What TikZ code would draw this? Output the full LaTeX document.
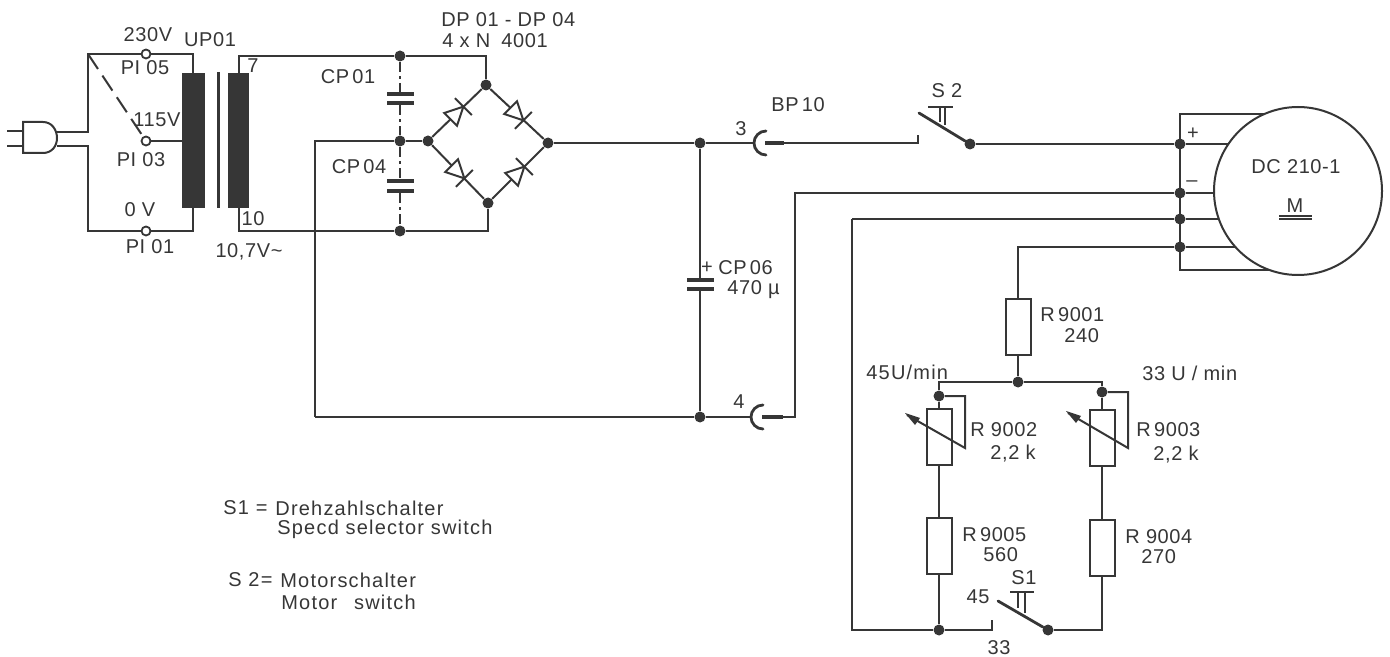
\documentclass[tikz,border=0pt]{standalone}
\usepackage{fontspec}
\setmainfont{Liberation Sans}[LetterSpace=3]
\newfontfamily\widefont{Liberation Sans}[LetterSpace=6]
\usepackage{xcolor}
\definecolor{ink}{HTML}{363636}
\newcommand{\tightfont}{\fontsize{10}{12}\selectfont\spaceskip 1.6pt\relax}
\tikzset{
  wire/.style={line width=1pt, ink},
  blade/.style={line width=1.4pt, ink, line cap=round},
  pin/.style={line width=1.9pt, ink},
  dot/.style={circle, fill=ink, inner sep=0pt, minimum size=5.5pt},
  post/.style={circle, draw=ink, line width=0.9pt, fill=white, inner sep=0pt, minimum size=4.5pt},
  res/.style={rectangle, draw=ink, line width=1pt, fill=white, inner sep=0pt, minimum width=12.5pt, minimum height=28pt},
  coil/.style={rectangle, fill=ink, inner sep=0pt, minimum width=11.5pt, minimum height=67.5pt},
  plate/.style={rectangle, fill=ink, inner sep=0pt, minimum width=13.5pt, minimum height=1.9pt},
  lab/.style={font=\fontsize{10}{12}\selectfont, text=ink, inner sep=0pt},
  tight/.style={font=\tightfont, text=ink, inner sep=0pt},
  leg/.style={font=\fontsize{10}{12}\selectfont, text=ink, inner sep=0pt, anchor=west},
  note/.style={font=\fontsize{10}{12}\selectfont\widefont, text=ink, inner sep=0pt, anchor=west}
}
\begin{document}
\begin{tikzpicture}[x=0.5pt,y=-0.5pt]
\useasboundingbox (0,0) rectangle (1390,657);

% Mains plug
\draw[wire] (7,131) -- (23,131);
\draw[wire] (7,146) -- (23,146);
\draw[wire] (23,122) -- (43,122) .. controls (52,122) and (57,130) .. (57,138) .. controls (57,146) and (52,153) .. (43,153) -- (23,153) -- cycle;

% Input posts and corners
\coordinate (pa) at (57,132);
\coordinate (pb) at (57,146);
\coordinate (fa) at (88,132);
\coordinate (fb) at (88,146);
\coordinate (ftop) at (88,54);
\coordinate (fbot) at (88,231);
\coordinate (prit) at (193,54);
\coordinate (prib) at (193,231);
\node[coil] (coilone) at (193.5,140.5) {};
\node[coil, minimum width=10.5pt] (coiltwo) at (238.5,140.5) {};
\draw[line width=1.5pt, ink] (218,72) -- (218,208);
\draw[wire] (pa) -- (fa) -- (ftop) -- (prit) -- (prit |- coilone.north);
\draw[wire] (pb) -- (fb) -- (fbot) -- (prib) -- (prib |- coilone.south);
\node[post] (pifive) at (146,54) {};
\node[post] (pithree) at (146,141) {};
\node[post] (pione) at (146,231) {};
\draw[wire, dash pattern=on 9pt off 4pt] (ftop) -- (pithree);
\draw[wire] (pithree) -- (pithree -| coilone.west);

% Secondary side
\coordinate (seca) at (238.5,56);
\coordinate (secb) at (238.5,231);
\node[dot] (captop) at (400,56) {};
\node[dot] (capmid) at (400,141) {};
\node[dot] (capbot) at (400,231) {};
\node[dot] (brl) at (428,141) {};
\node[dot] (brt) at (486,85) {};
\node[dot] (brr) at (548,143) {};
\node[dot] (brb) at (488,203) {};
\coordinate (ctop) at (486,56);
\coordinate (cbot) at (488,231);
\coordinate (retl) at (315,141);
\coordinate (retb) at (315,417);
\draw[wire] (coiltwo.north) -- (seca) -- (captop) -- (ctop) -- (brt);
\draw[wire] (coiltwo.south) -- (secb) -- (capbot) -- (cbot) -- (brb);
\draw[wire] (brl) -- (capmid) -- (retl) -- (retb);

% Filter capacitors
\node[plate] (cpa) at (400,94) {};
\node[plate] (cpb) at (400,103) {};
\node[plate] (cpc) at (400,181) {};
\node[plate] (cpd) at (400,191) {};
\foreach \ca/\cb in {captop/cpa, cpb/capmid, capmid/cpc, cpd/capbot}
  \draw[wire, dash pattern=on 5pt off 2pt on 1.5pt off 2pt] (\ca) -- (\cb);

% Bridge
\draw[wire] (brl) -- (brt) -- (brr) -- (brb) -- (brl);
\foreach \dx/\dy/\da in {457/113/45, 517/114/-45, 458/172/-45, 518/173/45}{
  \begin{scope}[shift={(\dx,\dy)}, rotate=\da]
    \draw[wire, fill=white] (-9,-9) -- (-9,9) -- (9,0) -- cycle;
    \draw[wire] (9,-12) -- (9,12);
  \end{scope}
}

% Main rail, sockets and S2
\node[dot] (railp) at (700,143) {};
\node[dot] (railn) at (700,417) {};
\coordinate (sockthree) at (765,143);
\coordinate (sockfour) at (762,417);
\coordinate (endthree) at (753,143);
\coordinate (endfour) at (750,417);
\coordinate (pinthree) at (784,143);
\coordinate (pinfour) at (783,417);
\draw[wire] (brr) -- (railp) -- (endthree);
\draw[wire] (retb) -- (railn) -- (endfour);
\draw[blade] (sockthree) ++(1,-12) arc[start angle=90, end angle=270, radius=6pt];
\draw[blade] (sockfour) ++(1,-12) arc[start angle=90, end angle=270, radius=6pt];
\draw[pin] (sockthree) -- (pinthree);
\draw[pin] (sockfour) -- (pinfour);

\coordinate (stwoa) at (918,143);
\coordinate (stwob) at (918,135);
\node[dot] (stwoc) at (970,144) {};
\draw[wire] (pinthree) -- (stwoa) -- (stwob);
\draw[blade] (919,113) -- (stwoc);
\draw[wire] (928,107) -- (953,107);
\draw[wire] (940,107) -- (940,122);
\draw[wire] (945,107) -- (945,125);

% Smoothing capacitor
\node[plate] (cpe) at (700,280) {};
\node[plate] (cpf) at (700,289) {};
\draw[wire] (railp) -- (railp |- cpe);
\draw[wire] (railn) -- (railn |- cpf);

% Motor bus
\node[dot] (busa) at (1180,144) {};
\node[dot] (busb) at (1180,193) {};
\node[dot] (busc) at (1180,219) {};
\node[dot] (busd) at (1180,247) {};
\coordinate (bust) at (1180,114);
\coordinate (busu) at (1180,270);
\coordinate (ma) at (1264,114);
\coordinate (mb) at (1228,144);
\coordinate (mc) at (1214,193);
\coordinate (md) at (1219,219);
\coordinate (me) at (1235,247);
\coordinate (mf) at (1269,270);
\draw[wire] (ma) -- (bust) -- (busu) -- (mf);
\draw[wire] (stwoc) -- (busa) -- (mb);
\coordinate (nega) at (795,417);
\coordinate (negb) at (795,193);
\draw[wire] (pinfour) -- (nega) -- (negb) -- (busb) -- (mc);
\coordinate (retc) at (852,219);
\coordinate (retd) at (852,630);
\draw[wire] (retc) -- (busc) -- (md);
\node[circle, draw=ink, line width=1pt, fill=white, inner sep=0pt, minimum size=84pt] (motor) at (1298,191) {};

% Speed network
\node[res] (rone) at (1018,327) {};
\node[dot] (topj) at (1018,382) {};
\coordinate (busr) at (1018,247);
\draw[wire] (me) -- (busd) -- (busr) -- (rone) -- (topj);
\coordinate (topl) at (939,382);
\coordinate (topr) at (1102,382);
\node[dot] (potl) at (939,396) {};
\node[dot] (potr) at (1102,392) {};
\node[res] (rtwo) at (939,437) {};
\node[res] (rthree) at (1102,437.5) {};
\node[res] (rfive) at (939,546) {};
\node[res] (rfour) at (1102,548) {};
\node[dot] (botl) at (939,630) {};
\node[dot] (sonec) at (1048,630) {};
\coordinate (sonea) at (992,630);
\coordinate (soneb) at (992,620);
\coordinate (botr) at (1102,630);
\draw[wire] (potl) -- (topl) -- (topj) -- (topr) -- (potr);
\draw[wire] (potl) -- (rtwo) -- (rfive) -- (botl);
\draw[wire] (potr) -- (rthree) -- (rfour) -- (botr) -- (sonec);
\draw[wire] (retc) -- (retd) -- (botl) -- (sonea) -- (soneb);
\draw[blade] (998,601) -- (sonec);
\draw[wire] (1010,592) -- (1034,592);
\draw[wire] (1018,592) -- (1018,608);
\draw[wire] (1025,592) -- (1025,613);

% Wipers
\coordinate (wipl) at (965,448);
\coordinate (wipr) at (1128,448);
\draw[wire] (potl) -- (wipl |- potl) -- (wipl) -- (907,415);
\draw[wire] (potr) -- (wipr |- potr) -- (wipr) -- (1068,413);
\fill[ink] (905,413) -- (920,418) -- (915,425) -- cycle;
\fill[ink] (1066,411) -- (1081,416) -- (1076,423) -- cycle;

% Motor symbol
\draw[wire] (1279,216) -- (1312,216);
\draw[wire] (1279,219.5) -- (1312,219.5);

% Labels
\node[lab] (lbla) at (148,35) {230V};
\node[lab] (lblb) at (210,40) {UP01};
\node[lab] (lblc) at (145,68) {PI 05};
\node[lab] (lbld) at (253,66) {7};
\node[lab] (lble) at (157,120) {115V};
\node[lab] (lblf) at (141,160) {PI 03};
\node[lab] (lblg) at (140,210) {0 V};
\node[lab] (lblh) at (150,247) {PI 01};
\node[lab] (lbli) at (253,219) {10};
\node[lab] (lblj) at (249,252) {10,7V\textasciitilde};
\node[tight] (lblk) at (348,77) {CP 01};
\node[tight] (lbll) at (359,167) {CP 04};
\node[leg] (lblm) at (441,20) {DP 01 - DP 04};
\node[leg] (lbln) at (442,41) {4 x N\hspace{2.5pt} 4001};
\node[tight] (lblo) at (798,105) {BP 10};
\node[lab] (lblp) at (741,129) {3};
\node[lab] (lblq) at (739,402) {4};
\node[lab] (lblr) at (947,91) {S 2};
\node[lab] (lbls) at (707,268) {+};
\node[tight, anchor=west] (lblt) at (718,268) {CP 06};
\node[leg] (lblu) at (727,290) {470 µ};
\node[lab] (lblv) at (1193,134) {+};
\node[lab] (lblw) at (1192,184) {–};
\node[lab] (lblx) at (1296,167) {DC 210-1};
\node[lab] (lbly) at (1295,206) {M};
\node[tight, anchor=west] (lblz) at (1040,315) {R 9001};
\node[leg] (lblaa) at (1064,336) {240};
\node[leg] (lblab) at (1142,373) {33 U / min};
\node[note] (lblac) at (866,372) {45U/min};
\node[leg] (lblad) at (970,430) {R 9002};
\node[leg] (lblae) at (990,454) {2,2 k};
\node[tight, anchor=west] (lblaf) at (1136,430) {R 9003};
\node[leg] (lblag) at (1153,455) {2,2 k};
\node[tight, anchor=west] (lblah) at (962,535) {R 9005};
\node[leg] (lblai) at (983,555) {560};
\node[leg] (lblaj) at (1125,537) {R 9004};
\node[leg] (lblak) at (1141,557) {270};
\node[lab] (lblal) at (1024,578) {S1};
\node[lab] (lblam) at (978,597) {45};
\node[lab] (lblan) at (999,648) {33};

% Legend
\node[note] (lega) at (223,508) {S1 =};
\node[note] (legb) at (275,508) {Drehzahlschalter};
\node[note] (legc) at (277,529) {Specd selector switch};
\node[note] (legd) at (228,580) {S 2=};
\node[note] (lege) at (280,580) {Motorschalter};
\node[note] (legf) at (281,602) {Motor\hspace{5pt} switch};
\end{tikzpicture}
\end{document}
